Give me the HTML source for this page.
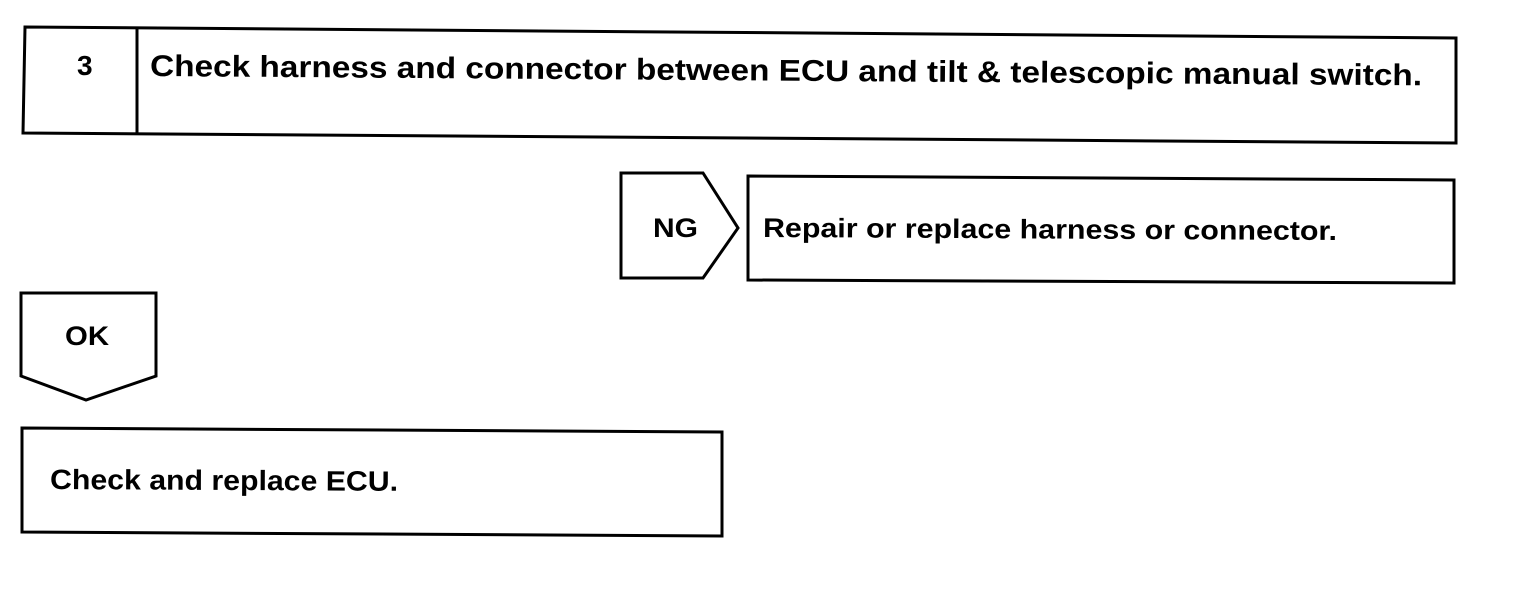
<!DOCTYPE html>
<html><head><meta charset="utf-8"><style>
html,body{margin:0;padding:0;background:#fff;}
svg{display:block;}
text{font-family:"Liberation Sans",Arial,sans-serif;font-weight:bold;fill:#000;}
</style></head><body>
<svg width="1520" height="604" viewBox="0 0 1520 604" xmlns="http://www.w3.org/2000/svg">
<g fill="none" stroke="#000" stroke-width="3" stroke-linejoin="miter">
<polygon points="25,27 1456,38 1456,143 23,133"/>
<line x1="137" y1="28" x2="137" y2="134"/>
<polygon points="621,173 703,173 738,228 703,278 621,278"/>
<polygon points="748,176 1454,180 1454,283 748,280"/>
<polygon points="21,293 156,293 156,376 86,400 21,376"/>
<polygon points="22,428 722,432 722,536 22,532"/>
</g>
<text x="77" y="75" font-size="28">3</text>
<text x="150" y="76" font-size="30" textLength="1272" lengthAdjust="spacingAndGlyphs" transform="rotate(0.42 150 76)">Check harness and connector between ECU and tilt &amp; telescopic manual switch.</text>
<text x="653" y="237" font-size="27" textLength="45" lengthAdjust="spacingAndGlyphs">NG</text>
<text x="763" y="237" font-size="27" textLength="574" lengthAdjust="spacingAndGlyphs" transform="rotate(0.3 763 237)">Repair or replace harness or connector.</text>
<text x="65" y="345" font-size="27" textLength="44" lengthAdjust="spacingAndGlyphs">OK</text>
<text x="50" y="489" font-size="28" textLength="348" lengthAdjust="spacingAndGlyphs" transform="rotate(0.3 50 489)">Check and replace ECU.</text>
</svg>
</body></html>
